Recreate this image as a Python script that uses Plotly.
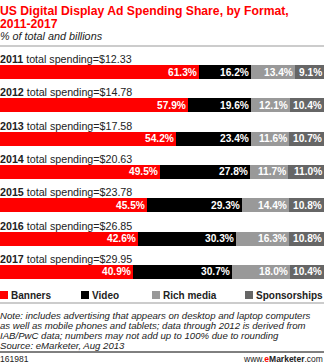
import plotly.graph_objects as go

W, H = 324, 364

years = ["2011", "2012", "2013", "2014", "2015", "2016", "2017"]
totals = ["$12.33", "$14.78", "$17.58", "$20.63", "$23.78", "$26.85", "$29.95"]
banners = [61.3, 57.9, 54.2, 49.5, 45.5, 42.6, 40.9]
video = [16.2, 19.6, 23.4, 27.8, 29.3, 30.3, 30.7]
rich_media = [13.4, 12.1, 11.6, 11.7, 14.4, 16.3, 18.0]
sponsorships = [9.1, 10.4, 10.7, 11.0, 10.8, 10.8, 10.4]

series_names = ["Banners", "Video", "Rich media", "Sponsorships"]
series_vals = [banners, video, rich_media, sponsorships]
colors = ["#ff0000", "#000000", "#999999", "#666666"]

# layout (pixel) positions of the bar rows
row0, step, bar_h = 72, 33.3, 14
ypos = [row0 + step * i for i in range(len(years))]

def py(p):
    return 1 - p / H

def px(p):
    return p / W

fig = go.Figure()
for name, vals, col in zip(series_names, series_vals, colors):
    fig.add_trace(go.Bar(
        x=vals, y=ypos, orientation="h", name=name,
        marker=dict(color=col, line=dict(width=0)),
        width=bar_h, showlegend=False, hoverinfo="x+name",
    ))

ann = []
shapes = []
FONT = "Arial, Liberation Sans, sans-serif"

def text(t, x, y, size, color="#222222", xanchor="left", xref="paper", yref="paper", xshift=-1):
    ann.append(dict(text=t, x=x, y=y, xref=xref, yref=yref, xanchor=xanchor, yanchor="middle",
                    showarrow=False, borderpad=0, font=dict(family=FONT, size=size, color=color),
                    xshift=xshift))

# Title / subtitle
text("<b>US Digital Display Ad Spending Share, by Format,</b>", 0, py(10.5), 12.2, "#ff0000")
text("<b>2011-2017</b>", 0, py(24), 12.2, "#ff0000")
text("<i>% of total and billions</i>", 0, py(36.5), 10.8)
shapes.append(dict(type="line", xref="paper", yref="paper", x0=0, x1=1, y0=py(46), y1=py(46),
                   line=dict(color="#999999", width=1)))

# Row labels and value labels
for i, yr in enumerate(years):
    text(f"<b>{yr}</b> total spending={totals[i]}", 0, ypos[i] - 13, 10.7, yref="y")
    cum = 0
    for vals in series_vals:
        cum += vals[i]
        text(f"<b>{vals[i]:.1f}%</b>", min(cum, 100), ypos[i], 10.2, "#ffffff",
             xanchor="right", xref="x", yref="y", xshift=-1)

# Legend
leg_x = [0, 81, 152, 245]
leg_y = 295
for name, col, lx in zip(series_names, colors, leg_x):
    shapes.append(dict(type="rect", xref="paper", yref="paper", x0=px(lx), x1=px(lx + 8),
                       y0=py(leg_y - 4), y1=py(leg_y + 4), fillcolor=col, line=dict(width=0)))
    text(f"<b>{name}</b>", px(lx + 11), py(leg_y), 10)

shapes.append(dict(type="line", xref="paper", yref="paper", x0=0, x1=1, y0=py(303), y1=py(303),
                   line=dict(color="#999999", width=1)))

note_lines = [
    "Note: includes advertising that appears on desktop and laptop computers",
    "as well as mobile phones and tablets; data through 2012 is derived from",
    "IAB/PwC data; numbers may not add up to 100% due to rounding",
    "Source: eMarketer, Aug 2013",
]
for k, line in enumerate(note_lines):
    text(f"<i>{line}</i>", 0, py(315 + 10.3 * k), 9.6)

shapes.append(dict(type="line", xref="paper", yref="paper", x0=0, x1=1, y0=py(352), y1=py(352),
                   line=dict(color="#000000", width=1)))

text("161981", 0, py(358.5), 8.5)
text("www.<b><span style='color:#ff0000'>e</span>Marketer</b>.com", 1, py(358.5), 8.5,
     xanchor="right", xshift=0)

fig.update_layout(
    width=W, height=H, margin=dict(l=0, r=0, t=0, b=0),
    paper_bgcolor="#ffffff", plot_bgcolor="#ffffff",
    barmode="stack", bargap=0,
    xaxis=dict(range=[0, 100], visible=False, fixedrange=True),
    yaxis=dict(range=[H, 0], visible=False, fixedrange=True),
    annotations=ann, shapes=shapes,
)

fig.write_html("out.html", config={"displayModeBar": False})
